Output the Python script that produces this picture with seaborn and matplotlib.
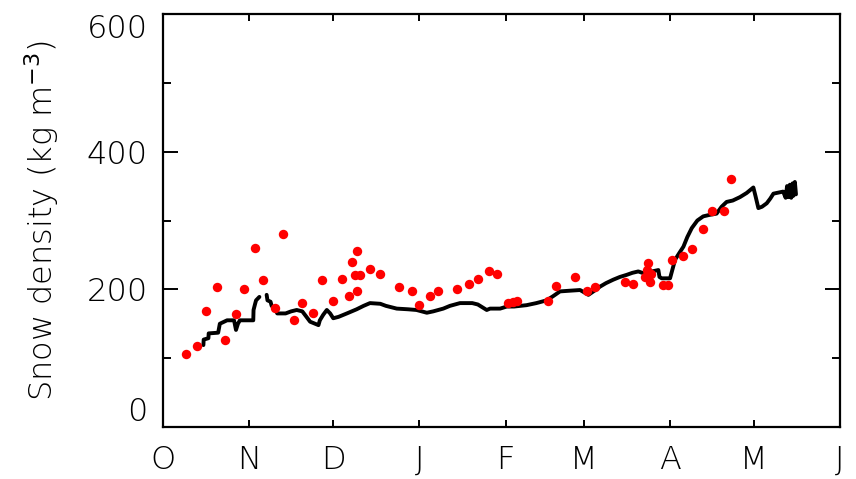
import numpy as np
import pandas as pd
import matplotlib
matplotlib.use("Agg")
import matplotlib.pyplot as plt
import seaborn as sns

# ---- data (x = days since 1 October) ----
obs_day = [8.3, 12.2, 15.3, 19.5, 22.3, 26.2, 29.1, 33.1, 36.0, 40.2, 43.1, 47.1,
           50.0, 54.0, 57.1, 60.9, 64.2, 66.8, 67.7, 69.5, 69.7, 68.9, 70.7, 74.3,
           77.9, 84.8, 89.3, 92.0, 95.8, 98.8, 105.6, 109.9, 113.2, 117.1, 119.8,
           124.0, 125.7, 127.2, 138.1, 141.1, 147.9, 152.1, 155.1, 165.8, 168.8,
           173.0, 174.2, 173.6, 174.8, 175.0, 179.6, 181.4, 182.6, 186.5, 189.8,
           193.7, 197.2, 201.4, 203.9]
obs_density = [106, 118, 169, 204, 127, 164, 201, 260, 214, 173, 281, 155,
               180, 165, 214, 183, 215, 191, 240, 256, 197, 221, 221, 229,
               223, 203, 197, 177, 191, 198, 200, 208, 215, 226, 222,
               180, 181, 183, 183, 205, 218, 197, 204, 211, 208,
               218, 238, 228, 211, 222, 206, 206, 243, 248, 259,
               287, 314, 314, 360]

model_day = [14.5, 14.6, 16.3, 16.4, 19.8, 20.4, 23.0, 25.5, 26.2, 26.9, 27.6, 32.4,
             32.5, 33.0, 33.4, 34.6,
             37.2, 37.5, 38.6, 39.0, 40.5, 41.0, 44.0, 46.0, 48.0, 50.0, 51.5, 52.8,
             55.8, 56.3, 57.5, 58.8, 60.0, 61.1, 63.0, 66.0, 69.5, 72.0, 74.3, 78.0,
             80.0, 83.9, 88.0, 91.0, 94.7, 97.0, 100.6, 103.0, 106.6, 111.0, 113.0,
             116.2, 117.4, 121.0, 123.4, 126.0, 130.5, 134.0, 137.7, 140.0, 142.5,
             146.0, 149.7, 152.7, 154.5, 156.9, 159.0, 161.6, 164.0, 166.4, 168.5,
             170.6, 172.0, 173.6, 175.5, 177.8, 178.2, 179.0, 182.0, 183.8, 185.2,
             186.8, 188.2, 189.8, 191.8, 193.9, 196.0, 198.7, 200.5, 202.3, 204.5,
             207.1, 209.5, 211.9, 212.7, 213.7, 215.0, 216.7, 218.0, 219.1, 222.6,
             223.5, 224.0, 224.5, 225.0, 225.5, 226.0, 226.3, 226.8, 227.2]
model_density = [119, 127, 129, 136, 137, 150, 155, 155, 141, 150, 155, 155,
                 170, 178, 184, 189,
                 192, 184, 182, 176, 170, 165, 165, 168, 170, 168, 160, 153,
                 148, 155, 163, 170, 165, 158, 160, 165, 171, 176, 180, 179,
                 176, 172, 171, 170, 166, 168, 172, 176, 180, 180, 178,
                 170, 172, 172, 175, 175, 177, 180, 184, 190, 197,
                 198, 199, 192, 197, 204, 209, 214, 218, 221, 224,
                 226, 224, 222, 226, 228, 218, 216, 216, 243, 252,
                 262, 276, 289, 300, 306, 308, 310, 320, 327, 329,
                 334, 340, 348, 335, 318, 320, 325, 332, 339, 342,
                 333, 350, 334, 352, 333, 354, 336, 356, 338]
model_segment = [1] * 16 + [2] * (len(model_day) - 16)

month_starts = [0, 31, 61, 92, 123, 151, 182, 212, 243]
month_labels = ["O", "N", "D", "J", "F", "M", "A", "M", "J"]

model_df = pd.DataFrame({"day": model_day, "density": model_density, "seg": model_segment})
obs_df = pd.DataFrame({"day": obs_day, "density": obs_density})

sns.set_style("ticks")
plt.rcParams["font.family"] = ["DejaVu Sans"]
plt.rcParams["text.color"] = "black"
plt.rcParams["axes.labelcolor"] = "black"

fig = plt.figure(figsize=(8.56, 4.79), dpi=100)
ax = fig.add_axes([163 / 856, 1 - 427 / 479, 677 / 856, 413 / 479])

sns.lineplot(data=model_df, x="day", y="density", units="seg", estimator=None,
             color="black", linewidth=2.8, ax=ax, legend=False, sort=False)
sns.scatterplot(data=obs_df, x="day", y="density", color="#ff0000", s=46,
                linewidth=0, marker="o", ax=ax, legend=False, zorder=3)

ax.set_xlim(0, 243)
ax.set_ylim(0, 600)
ax.set_xticks(month_starts)
ax.set_xticklabels(month_labels)
ax.set_yticks([0, 200, 400, 600])
ax.set_yticklabels(["0", "200", "400", "600"])
ax.set_yticks([100, 300, 500], minor=True)

fs = 23
for sp in ax.spines.values():
    sp.set_visible(True)
    sp.set_linewidth(1.6)
    sp.set_color("black")

ax.tick_params(axis="x", which="major", direction="in", length=5, width=1.4,
               top=True, bottom=True, pad=13, labelsize=fs, colors="black",
               labelcolor="black")
ax.tick_params(axis="y", which="major", direction="in", length=11, width=1.4,
               left=True, right=True, pad=11, labelsize=fs, colors="black",
               labelcolor="black")
ax.tick_params(axis="y", which="minor", direction="in", length=6, width=1.4,
               left=True, right=True, colors="black")

for lab in ax.get_xticklabels() + ax.get_yticklabels():
    lab.set_fontweight("light")
ylabs = ax.get_yticklabels()
ylabs[0].set_va("bottom")
ylabs[-1].set_va("top")

ax.set_xlabel("")
ax.set_ylabel("Snow density (kg m$^{-3}$)", fontsize=fs, fontweight="light",
              color="black")
ax.yaxis.set_label_coords(-0.15, 0.5)

fig.savefig("out.png", dpi=100)
